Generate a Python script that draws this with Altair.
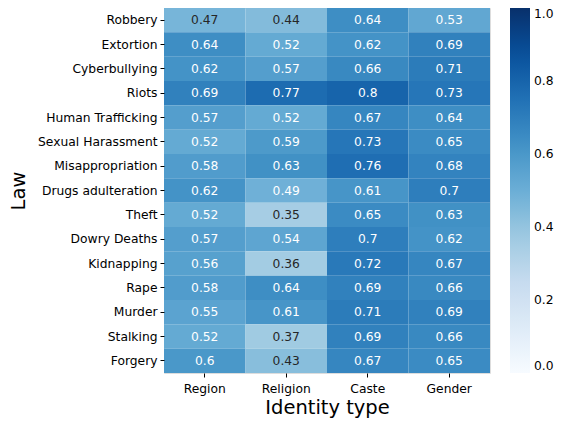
import altair as alt
import pandas as pd

laws = ["Robbery", "Extortion", "Cyberbullying", "Riots", "Human Trafficking",
        "Sexual Harassment", "Misappropriation", "Drugs adulteration", "Theft",
        "Dowry Deaths", "Kidnapping", "Rape", "Murder", "Stalking", "Forgery"]
identities = ["Region", "Religion", "Caste", "Gender"]
region = [0.47, 0.64, 0.62, 0.69, 0.57, 0.52, 0.58, 0.62, 0.52, 0.57, 0.56, 0.58, 0.55, 0.52, 0.6]
religion = [0.44, 0.52, 0.57, 0.77, 0.52, 0.59, 0.63, 0.49, 0.35, 0.54, 0.36, 0.64, 0.61, 0.37, 0.43]
caste = [0.64, 0.62, 0.66, 0.8, 0.67, 0.73, 0.76, 0.61, 0.65, 0.7, 0.72, 0.69, 0.71, 0.69, 0.67]
gender = [0.53, 0.69, 0.71, 0.73, 0.64, 0.65, 0.68, 0.7, 0.63, 0.62, 0.67, 0.66, 0.69, 0.66, 0.65]

cols = {"Region": region, "Religion": religion, "Caste": caste, "Gender": gender}
rows = []
for ident in identities:
    for law, v in zip(laws, cols[ident]):
        rows.append({"Law": law, "Identity type": ident, "value": v})
df = pd.DataFrame(rows)

blues = ["#f7fbff", "#deebf7", "#c6dbef", "#9ecae1", "#6baed6",
         "#4292c6", "#2171b5", "#08519c", "#08306b"]
stops = [i / 8 for i in range(9)]

font = "DejaVu Sans"
fs = 12.3

x = alt.X("Identity type:N", sort=identities,
          axis=alt.Axis(title="Identity type", labelAngle=0, titleFontSize=19.5,
                        titleFontWeight="normal", labelFontSize=fs, domain=False,
                        ticks=True, tickSize=4, tickColor="#000", labelColor="#000",
                        titleColor="#000", titlePadding=4, labelPadding=5))
y = alt.Y("Law:N", sort=laws,
          axis=alt.Axis(title="Law", titleFontSize=19.5, titleFontWeight="normal",
                        labelFontSize=fs, domain=False, ticks=True, tickSize=4,
                        tickColor="#000", labelColor="#000", titleColor="#000",
                        titlePadding=9, labelPadding=3))

base = alt.Chart(df)

rect = base.mark_rect().encode(
    x=x, y=y,
    color=alt.Color("value:Q",
                    scale=alt.Scale(domain=stops, range=blues, interpolate="rgb"),
                    legend=alt.Legend(title=None, orient="none", legendX=346, legendY=0,
                                      direction="vertical", gradientLength=365,
                                      gradientThickness=20, labelFontSize=fs,
                                      labelColor="#000", values=[0, 0.2, 0.4, 0.6, 0.8, 1.0],
                                      format=".1f", labelOffset=4, gradientStrokeWidth=0))
)

text = base.mark_text(fontSize=fs, font=font).encode(
    x=alt.X("Identity type:N", sort=identities),
    y=alt.Y("Law:N", sort=laws),
    text=alt.Text("value:Q"),
    color=alt.condition(alt.datum.value < 0.48, alt.value("#262626"), alt.value("#ffffff"))
)

chart = (rect + text).properties(
    width=326, height=365,
    padding={"left": 156, "top": 0, "right": 71, "bottom": 46},
    autosize=alt.AutoSizeParams(type="none"),
).configure_view(stroke=None).configure_scale(bandPaddingInner=0, bandPaddingOuter=0).configure(
    font=font
).configure_axis(labelFont=font, titleFont=font).configure_legend(labelFont=font)

chart.save("out.html", embed_options={"renderer": "svg", "actions": False})
